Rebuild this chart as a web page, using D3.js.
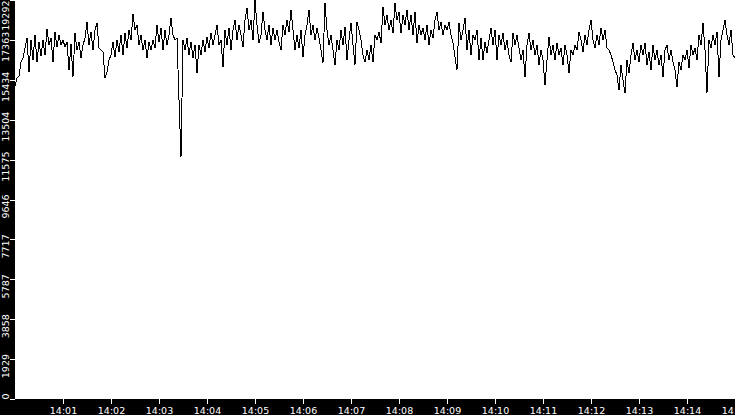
<!DOCTYPE html>
<html>
<head>
<meta charset="utf-8">
<script src="https://cdn.jsdelivr.net/npm/d3@7"></script>
<style>
  body { margin: 0; background: #000; }
  svg { display: block; }
</style>
</head>
<body>
<div id="chart"></div>
<script>
var width = 735;
var height = 415;

// plot area, everything outside it is the black frame
var plotLeft = 15;
var plotBottom = 399;
var tickLength = 5;

var fontFamily = '"DejaVu Sans", sans-serif';
var fontSize = 9.5;

// one sample every 2.5 seconds, starting at 14:00:00
var startTime = "14:00:00";
var stepSeconds = 2.5;

var values = [
    15134, 15521, 15618, 16294, 16488, 16971, 17455, 15811, 17358, 16391,
    17600, 16294, 17262, 16584, 17358, 16633, 17890, 17116, 17455, 16294,
    17745, 17020, 17600, 17116, 17358, 17020, 17262, 15907, 17165, 15569,
    17697, 16874, 17262, 16488, 17116, 17455, 18228, 17116, 17745, 16874,
    17842, 18180, 16971, 16874, 16778, 15521, 15811, 16391, 16633, 17262,
    16536, 17358, 16778, 17600, 16633, 17697, 16971, 17842, 17358, 18615,
    17842, 18083, 17116, 17600, 16874, 17358, 16488, 17262, 16874, 17358,
    16971, 18083, 17262, 17938, 16874, 17842, 17116, 17600, 18422, 17600,
    17358, 17455, 14457, 11701, 17358, 16874, 17455, 16633, 17262, 16488,
    17116, 15762, 17116, 16633, 17358, 16778, 17503, 16971, 17697, 17116,
    17600, 18083, 17116, 17358, 16053, 17842, 17116, 17938, 16874, 17842,
    18325, 17358, 18083, 17600, 17020, 18325, 18905, 17842, 18325, 17358,
    19292, 18083, 17213, 17600, 18712, 17842, 17358, 18083, 17116, 17938,
    17358, 17842, 17262, 16874, 18083, 17600, 18325, 17745, 18808, 17842,
    16874, 17600, 16971, 17842, 16536, 17600, 18083, 18808, 17600, 18083,
    17358, 17938, 17455, 16874, 16246, 19147, 17842, 17116, 17600, 16874,
    16149, 17358, 16874, 17842, 17116, 17987, 16391, 17358, 18180, 17116,
    16149, 18228, 17842, 17358, 16633, 16294, 16874, 16391, 17116, 16294,
    17600, 17358, 17745, 17213, 18954, 18083, 18567, 17842, 18325, 17697,
    19147, 18325, 18712, 17697, 18567, 18083, 18808, 17842, 18567, 17600,
    18712, 17213, 18083, 17600, 17938, 17358, 18083, 17116, 17842, 17455,
    18325, 18712, 17842, 18228, 17600, 18083, 17842, 18228, 17600, 17213,
    16536, 15907, 18180, 17358, 17842, 18422, 16874, 17842, 16633, 17600,
    17358, 17842, 16391, 17455, 16391, 17262, 16729, 17358, 17938, 17116,
    17842, 16391, 17600, 17116, 17697, 16874, 17358, 16633, 16294, 17697,
    17116, 17600, 16971, 16391, 16874, 15569, 17116, 17697, 16874, 17358,
    16633, 17116, 16149, 16874, 16391, 15182, 16391, 17503, 16633, 17116,
    16391, 17213, 16633, 16971, 16149, 17116, 16633, 15762, 16874, 16633,
    17116, 16874, 17745, 17358, 16778, 17600, 17116, 17842, 18325, 17358,
    16971, 17600, 17116, 17938, 17358, 17842, 16971, 16874, 16633, 16294,
    15907, 15666, 14940, 16149, 15424, 14796, 16391, 15762, 16633, 17213,
    16391, 16874, 16294, 17116, 16633, 17213, 16149, 16778, 15907, 17116,
    16391, 16874, 16149, 16633, 15569, 16874, 17116, 16391, 16874, 16294,
    15907, 15086, 16294, 15907, 16633, 16391, 16874, 16004, 17116, 16633,
    16971, 16391, 17600, 17116, 18180, 16874, 14796, 17358, 16971, 17600,
    17116, 17745, 15569, 17358, 17842, 18325, 17600, 17116, 17842, 16633,
    16488
];

var xTickLabels = ["14:01", "14:02", "14:03", "14:04", "14:05", "14:06", "14:07", "14:08",
    "14:09", "14:10", "14:11", "14:12", "14:13", "14:14", "14:15"];
var yTickValues = [0, 1929, 3858, 5787, 7717, 9646, 11575, 13504, 15434, 17363, 19292];

var yMax = 19292;
var endTime = "14:15:00";

var parseSeconds = d3.timeParse("%H:%M:%S");
var parseMinutes = d3.timeParse("%H:%M");

var start = parseSeconds(startTime);
var times = values.map(function (v, i) {
    return new Date(start.getTime() + i * stepSeconds * 1000);
});
var xTicks = xTickLabels.map(function (label) {
    return parseMinutes(label);
});

var svg = d3.select("#chart").append("svg")
    .attr("width", width)
    .attr("height", height);

// black frame, white plot
svg.append("rect")
    .attr("width", width)
    .attr("height", height)
    .attr("fill", "#000");
svg.append("rect")
    .attr("x", plotLeft)
    .attr("y", 0)
    .attr("width", width - plotLeft)
    .attr("height", plotBottom)
    .attr("fill", "#fff");

var x = d3.scaleTime()
    .domain([start, parseSeconds(endTime)])
    .range([plotLeft, width]);

var y = d3.scaleLinear()
    .domain([0, yMax])
    .range([plotBottom, 0]);

function styleAxis(g) {
    g.select(".domain").remove();
    g.attr("font-family", fontFamily).attr("font-size", fontSize);
    g.selectAll(".tick line").attr("stroke", "#fff").attr("shape-rendering", "crispEdges");
    g.selectAll(".tick text").attr("fill", "#fff");
}

var xAxis = svg.append("g")
    .attr("transform", "translate(0," + plotBottom + ")")
    .call(d3.axisBottom(x)
        .tickValues(xTicks)
        .tickFormat(d3.timeFormat("%H:%M"))
        .tickSize(tickLength)
        .tickPadding(3));
styleAxis(xAxis);

var yAxis = svg.append("g")
    .attr("transform", "translate(" + plotLeft + ",0)")
    .call(d3.axisLeft(y)
        .tickValues(yTickValues)
        .tickFormat(d3.format("d"))
        .tickSize(tickLength));
styleAxis(yAxis);

// rotated labels, nudged below the tick and kept inside the plot height
yAxis.selectAll(".tick").each(function (d) {
    var tickY = y(d);
    var text = d3.select(this).select("text");
    text.attr("text-anchor", "middle")
        .attr("dy", 0)
        .attr("transform", "rotate(-90)");
    var w = text.node().getComputedTextLength();
    var center = Math.max(w / 2, Math.min(plotBottom - w / 2, tickY + 6.5));
    text.attr("x", -(center - tickY))
        .attr("y", 9.3 - plotLeft);
});

var line = d3.line()
    .x(function (d, i) { return x(times[i]); })
    .y(function (d) { return y(d); });

svg.append("path")
    .datum(values)
    .attr("d", line)
    .attr("fill", "none")
    .attr("stroke", "#000")
    .attr("stroke-width", 1)
    .attr("shape-rendering", "crispEdges");
</script>
</body>
</html>
